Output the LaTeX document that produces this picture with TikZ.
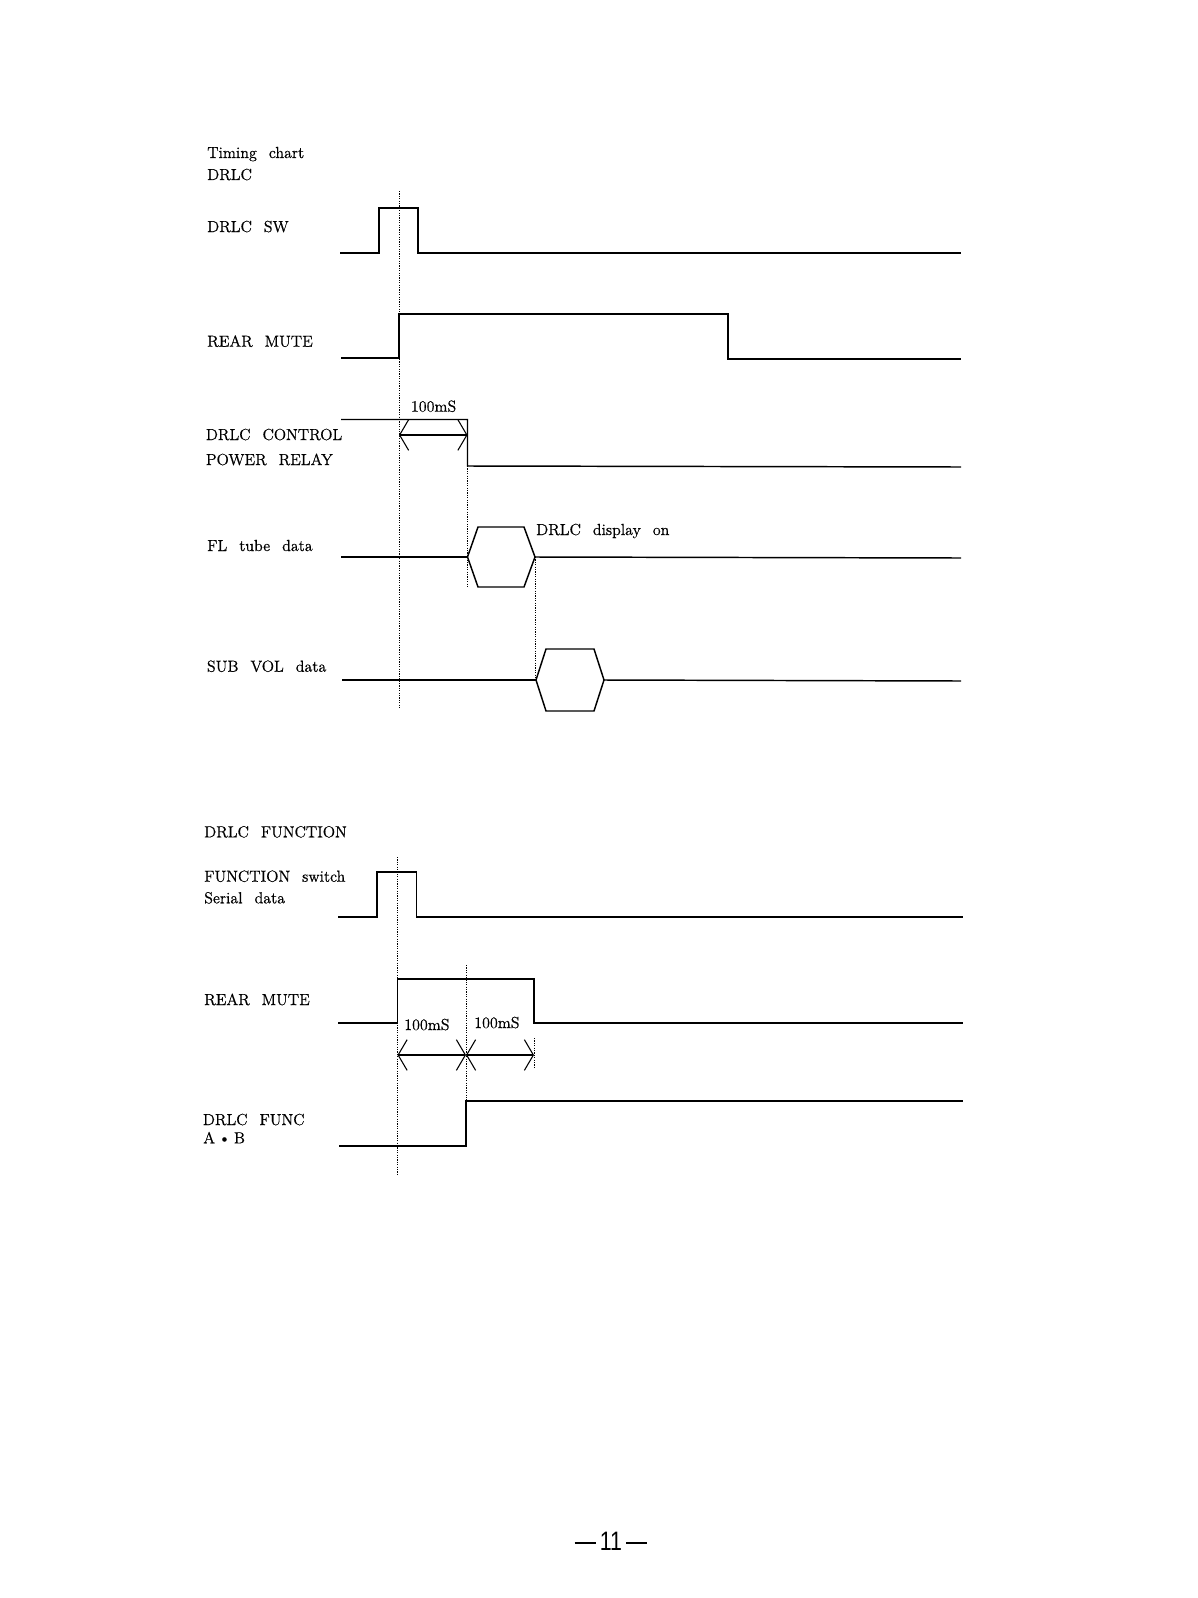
\documentclass[tikz,border=0pt]{standalone}
\usepackage{fontspec}
\newfontfamily\pagefont{Liberation Sans}
\newfontfamily\lblfam{Latin Modern Roman}[FakeBold=0.6]
\usetikzlibrary{arrows.meta}
\newcommand{\mylblfont}{\lblfam\fontsize{12}{14}\selectfont\spaceskip=9pt plus 1pt\relax}
\tikzset{
  lbl/.style={anchor=base west, inner sep=0pt, font=\mylblfont},
  wave/.style={line width=1.1pt, line join=miter},
  guide/.style={line width=0.75pt, dash pattern=on 0.9pt off 0.9pt},
  dim/.style={line width=0.8pt, {Straight Barb[length=6.75pt,width=23pt,line width=0.8pt]}-{Straight Barb[length=6.75pt,width=23pt,line width=0.8pt]}},
}
\begin{document}
\begin{tikzpicture}[x=0.75pt,y=-0.75pt]
\useasboundingbox (0,0) rectangle (1198,1598);

% ---------- labels, upper chart ----------
\node[lbl] (t1) at (207,158) {Timing chart};
\node[lbl] (t2) at (207,180) {DRLC};
\node[lbl] (l1) at (207,232) {DRLC SW};
\node[lbl] (l2) at (207,346.7) {REAR MUTE};
\node[lbl] (l3a) at (205.7,440) {DRLC CONTROL};
\node[lbl] (l3b) at (205.7,465) {POWER RELAY};
\node[lbl] (l4) at (207,551) {FL tube data};
\node[lbl] (l5) at (206.7,671.7) {SUB VOL data};
\node[lbl] (m1) at (410.7,411.7) {100mS};
\node[lbl] (m2) at (536,535) {DRLC display on};

% ---------- upper chart waveforms ----------
\draw[wave] (340,253) -- (379,253) -- (379,208) -- (418,208) -- (418,253) -- (961,253);
\draw[wave] (341,358) -- (399,358) -- (399,314) -- (728,314) -- (728,359) -- (961,359);
\draw[wave] (341,419.5) -- (467.5,419.5) -- (467.5,466) -- (961,467);
\draw[wave] (341,557) -- (467.5,557);
\draw[wave] (467.5,557) -- (478,527) -- (524,527) -- (535,557) -- (524,587) -- (478,587) -- cycle;
\draw[wave] (535,557) -- (961,558);
\draw[wave] (342,680) -- (536,680);
\draw[wave] (536,680) -- (546,649) -- (594,649) -- (604,680) -- (594,711) -- (546,711) -- cycle;
\draw[wave] (604,680) -- (961,681);

% guides
\draw[guide] (399,191) -- (399,708);
\draw[guide] (467.5,466) -- (467.5,587);
\draw[guide] (535,557) -- (535,680);

% dimension
\coordinate (a1) at (399,435);
\coordinate (a2) at (467.5,435);
\draw[dim] (a1) -- (a2);

% ---------- labels, lower chart ----------
\node[lbl] (u0) at (204,837.3) {DRLC FUNCTION};
\node[lbl] (u1a) at (204,881.7) {FUNCTION switch};
\node[lbl] (u1b) at (204,903.3) {Serial data};
\node[lbl] (u2) at (204,1005) {REAR MUTE};
\node[lbl] (u3a) at (202.7,1125) {DRLC FUNC};
\node[lbl] (u3b) at (203,1143.3) {A\hspace{2.5pt}\textbullet\hspace{2.5pt}B};
\node[lbl] (n1) at (404,1030) {100mS};
\node[lbl] (n2) at (474,1028) {100mS};

% ---------- lower chart waveforms ----------
\draw[wave] (338,917) -- (377,917) -- (377,872) -- (416.5,872) -- (416.5,917) -- (963,917);
\draw[wave] (338,1023) -- (397.5,1023) -- (397.5,979) -- (534,979) -- (534,1023) -- (963,1023);
\draw[wave] (339,1146) -- (466,1146) -- (466,1101) -- (963,1101);

% guides
\draw[guide] (397.5,857) -- (397.5,1175);
\draw[guide] (466,965) -- (466,1101);
\draw[guide] (534,1038) -- (534,1069);

% dimensions
\coordinate (b1) at (397.5,1055);
\coordinate (b2) at (466,1055);
\coordinate (b3) at (534,1055);
\draw[dim] (b1) -- (b2);
\draw[dim] (b2) -- (b3);

% page number
\node[anchor=base, inner sep=0pt, font=\pagefont\fontsize{20}{22}\selectfont] (pg) at (611,1550) {\rule[4.8pt]{16pt}{1.5pt}\hspace{3pt}\scalebox{0.8}[1]{11}\hspace{3pt}\rule[4.8pt]{16pt}{1.5pt}};
\end{tikzpicture}
\end{document}
